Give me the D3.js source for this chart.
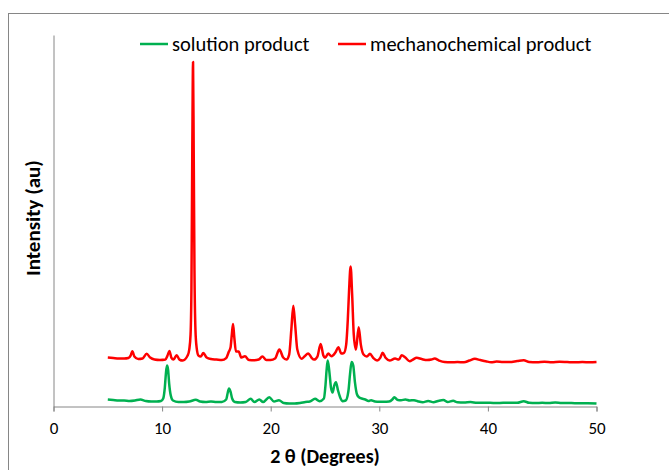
<!DOCTYPE html>
<html>
<head>
<meta charset="utf-8">
<script src="https://cdn.jsdelivr.net/npm/d3@7"></script>
<style>
  html, body { margin: 0; padding: 0; background: #fff; }
  svg { display: block; }
  text { font-family: Carlito, Calibri, Lato, "Open Sans", sans-serif; }
</style>
</head>
<body>
<svg id="chart" width="669" height="470"></svg>
<script>
// Powder XRD patterns: [2θ (degrees), intensity (a.u.)]
const solutionProduct = [
  [5.0,7],[5.5,6.5],[6.0,6],[6.5,6],[7.0,5.5],[7.5,6],[8.0,7],[8.5,5.5],[9.0,5],[9.5,5],
  [9.9,5.5],[10.1,8],[10.25,19],[10.35,33],[10.45,41],[10.55,37],[10.65,23],[10.8,11],[11.0,6],
  [11.5,4.5],[12.0,4.5],[12.5,5],[13.1,6.7],[13.5,5],[14.0,4.5],[14.5,5],[15.0,4.5],[15.5,4.5],
  [15.9,7],[16.05,14],[16.16,18],[16.3,15],[16.45,8],[16.7,4.5],[17.2,4],[17.7,4.5],[18.16,7.7],
  [18.5,4.5],[18.95,7],[19.3,4.5],[19.87,9.3],[20.3,5],[20.76,6.3],[21.2,3.5],[21.7,3],[22.2,3],
  [22.7,3.5],[23.2,4.5],[23.6,5],[24.08,7.7],[24.5,5.3],[24.9,8],[25.05,22],[25.15,37],[25.25,46],
  [25.4,35],[25.55,19],[25.7,14],[25.85,21],[26.01,24.3],[26.2,16],[26.4,9],[26.6,5.3],[26.9,6],
  [27.15,15],[27.3,32],[27.45,44.5],[27.6,41],[27.75,25],[27.95,12],[28.15,9],[28.38,8],[28.7,7],
  [29.0,5.5],[29.24,6.3],[29.6,5],[30.0,4.7],[30.4,4.7],[30.9,5],[31.2,7],[31.38,9.3],[31.7,6.5],
  [32.0,6.3],[32.4,7],[32.8,6],[33.2,6.3],[33.6,5],[34.0,4.3],[34.5,5.5],[35.0,4.3],[35.4,5.5],
  [35.9,6.5],[36.3,4.5],[36.8,5.7],[37.2,4.3],[37.8,4],[38.4,4.5],[39.0,3.7],[39.6,3.7],[40.2,3.7],
  [40.8,3.5],[41.4,3.7],[42.0,3.7],[42.7,3.7],[43.3,5.3],[43.8,3.7],[44.4,3.5],[45.0,3.7],[45.6,3.5],
  [46.2,4],[46.8,3.5],[47.4,3.5],[48.0,3.3],[48.6,3.3],[49.2,3.3],[50.0,3]
];

const mechanochemicalProduct = [
  [5.0,49],[5.5,48.5],[6.0,48],[6.5,48],[6.9,48.5],[7.1,51],[7.26,55.3],[7.45,50],[7.8,47.5],[8.2,48],
  [8.58,52.7],[8.9,49],[9.3,47],[9.8,46.5],[10.3,47],[10.5,51],[10.67,55.7],[10.85,49],[11.05,47],
  [11.34,51.3],[11.6,47],[11.9,46],[12.35,51],[12.5,57],[12.62,72],[12.7,117],[12.78,257],[12.85,345],
  [12.91,257],[12.98,137],[13.07,77],[13.18,59],[13.35,51],[13.55,50],[13.8,53.5],[14.1,49],[14.5,47.5],
  [15.0,47],[15.5,46.5],[15.9,48.5],[16.15,55],[16.3,59],[16.42,72],[16.53,82.7],[16.65,69],[16.8,55],
  [17.05,55],[17.3,49],[17.63,50.3],[18.0,46.5],[18.5,46.3],[18.9,47],[19.23,50],[19.6,46.5],[20.0,46.5],
  [20.4,48],[20.8,57],[21.15,49],[21.45,47],[21.7,52],[21.9,77],[22.08,101],[22.25,82],[22.45,57],
  [22.85,47.7],[23.1,50],[23.46,53],[23.75,49],[24.0,47],[24.3,50],[24.6,62.7],[24.85,51],[25.0,48.7],
  [25.3,53],[25.6,50.3],[25.95,54],[26.23,59.3],[26.5,53],[26.75,53.7],[26.95,62],[27.1,87],[27.22,117],
  [27.36,140.3],[27.5,112],[27.65,72],[27.85,57],[28.1,79.3],[28.3,62],[28.55,52],[28.85,50],[29.14,52.7],
  [29.45,48.5],[29.8,46],[30.1,49],[30.31,53.7],[30.6,48.5],[30.95,46],[31.45,48],[31.8,47],[32.06,51.3],
  [32.4,49],[32.8,45.3],[33.1,47],[33.44,48.7],[33.9,47.5],[34.4,46.5],[34.8,47],[35.1,48],[35.5,46],
  [36.0,44.5],[36.6,44.3],[37.2,44.5],[37.8,44.3],[38.3,46],[38.8,47.7],[39.3,46.5],[39.8,45.3],
  [40.3,44.3],[40.8,45],[41.4,44.5],[42.0,44.5],[42.7,45.5],[43.3,46.3],[43.8,44.5],[44.5,44.3],
  [45.2,44.7],[45.9,44.3],[46.6,44.7],[47.3,44.5],[48.0,44.3],[48.7,44.5],[49.4,44.3],[50.0,44.5]
];

const seriesNames = ["solution product", "mechanochemical product"];
const seriesColors = ["#00b050", "#ff0000"];
const xTicks = [0, 10, 20, 30, 40, 50];
const xTitle = "2 θ (Degrees)";
const yTitle = "Intensity (au)";

const svg = d3.select("#chart");
const axisColor = "#868686";

// Chart frame
svg.append("rect")
  .attr("x", 8.5).attr("y", 13.5)
  .attr("width", 700).attr("height", 500)
  .attr("fill", "none").attr("stroke", axisColor).attr("stroke-width", 1);

const x = d3.scaleLinear().domain([0, 50]).range([53.5, 596.5]);
const y = d3.scaleLinear().domain([0, 372]).range([406.5, 35]);

// X axis
const xAxis = svg.append("g")
  .attr("transform", `translate(0,${y(0)})`)
  .call(d3.axisBottom(x).tickValues(xTicks).tickSize(5).tickPadding(10).tickFormat(d3.format("d")));
xAxis.select(".domain").attr("stroke", axisColor).attr("stroke-width", 1);
xAxis.selectAll(".tick line").attr("stroke", axisColor);
xAxis.selectAll(".tick text").attr("fill", "#000").style("font-size", "17px");

// Y axis (line only)
const yAxis = svg.append("g")
  .attr("transform", `translate(${x(0)},0)`)
  .call(d3.axisLeft(y).tickValues([]).tickSizeOuter(0));
yAxis.select(".domain").attr("stroke", axisColor).attr("stroke-width", 1);

// Patterns
const line = d3.line().x(d => x(d[0])).y(d => y(d[1])).curve(d3.curveMonotoneX);
[solutionProduct, mechanochemicalProduct].forEach((data, i) => {
  svg.append("path")
    .datum(data)
    .attr("d", line)
    .attr("fill", "none")
    .attr("stroke", seriesColors[i])
    .attr("stroke-width", 2.5)
    .attr("stroke-linejoin", "round");
});

// Axis titles
svg.append("text")
  .attr("x", 325).attr("y", 463)
  .attr("text-anchor", "middle")
  .style("font-size", "20px").style("font-weight", "bold")
  .text(xTitle);

svg.append("text")
  .attr("transform", `translate(40,218) rotate(-90)`)
  .attr("text-anchor", "middle")
  .style("font-size", "21px").style("font-weight", "bold")
  .text(yTitle);

// Legend
const legendX = [140, 338];
seriesNames.forEach((name, i) => {
  const g = svg.append("g").attr("transform", `translate(${legendX[i]},44)`);
  g.append("line").attr("x1", 0).attr("x2", 28).attr("y1", 0).attr("y2", 0)
    .attr("stroke", seriesColors[i]).attr("stroke-width", 2.5);
  g.append("text").attr("x", 32).attr("y", 7)
    .style("font-size", "20.5px").attr("fill", "#000")
    .text(name);
});
</script>
</body>
</html>
